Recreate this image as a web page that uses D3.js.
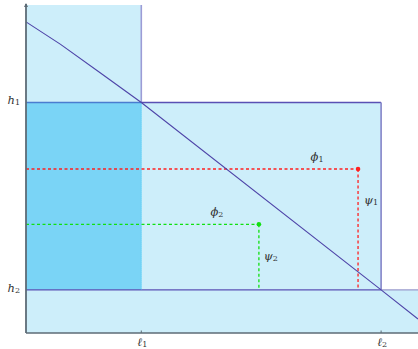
<!DOCTYPE html>
<html><head><meta charset="utf-8">
<script src="https://cdn.jsdelivr.net/npm/d3@7"></script>
<style>body{margin:0;background:#fff}svg{display:block}</style>
</head><body>
<script>
// ---- data (in chart units) ----
const xTicks = [1.0, 3.08];           // ℓ1, ℓ2
const xTickLabels = ["ℓ1", "ℓ2"];
const yTicks = [2.46, 0.46];          // h1, h2
const yTickLabels = ["h1", "h2"];
const curveX = [0, 0.3, 0.64, 1.0, 3.08, 3.4];
const curveY = [3.32, 3.08, 2.78, 2.46, 0.46, 0.15];
const pointsX = [2.88, 2.02];
const pointsY = [1.75, 1.16];
const pointNames = [["ϕ", "1"], ["ϕ", "2"]];
const pointNamesV = [["ψ", "1"], ["ψ", "2"]];

const W = 418, H = 349;
const x = d3.scaleLinear().domain([0, 3.4]).range([26, 418]);
const y = d3.scaleLinear().domain([0, 3.5]).range([333, 5]);
const [l1, l2] = xTicks, [h1, h2] = yTicks;
const xMax = 3.4, yMax = 3.5;

const svg = d3.select("body").append("svg").attr("width", W).attr("height", H);

const light = "#cdeefa", dark = "#7ad4f6";
// light regions
svg.append("rect").attr("x", x(0)).attr("y", y(yMax)).attr("width", x(l1) - x(0)).attr("height", y(h2) - y(yMax)).attr("fill", light);
svg.append("rect").attr("x", x(l1)).attr("y", y(h1)).attr("width", x(l2) - x(l1)).attr("height", y(h2) - y(h1)).attr("fill", light);
svg.append("rect").attr("x", x(0)).attr("y", y(h2)).attr("width", x(xMax) - x(0)).attr("height", y(0) - y(h2)).attr("fill", light);
// dark region
svg.append("rect").attr("x", x(0)).attr("y", y(h1)).attr("width", x(l1) - x(0)).attr("height", y(h2) - y(h1)).attr("fill", dark);

function seg(x1, y1, x2, y2, color, w, dash) {
  const s = svg.append("line").attr("x1", x(x1)).attr("y1", y(y1)).attr("x2", x(x2)).attr("y2", y(y2))
    .attr("stroke", color).attr("stroke-width", w);
  if (dash) s.attr("stroke-dasharray", dash);
  return s;
}
// region borders
seg(l1, yMax, l1, h1, "#9c9cd6", 1.6);
seg(0, h1, l1, h1, "#4a7cd0", 1.4);
seg(l1, h1, l2, h1, "#5a50b4", 1.4);
seg(l2, h1, l2, h2, "#8484c8", 1.6);
seg(0, h2, l2, h2, "#5a50b4", 1.4);
seg(l2, h2, xMax, h2, "#9a9acc", 1.4);
seg(l1, h1, l1, h2, "#3cc4f4", 1, "1,1");

// dashed guides
const gColors = ["#ff2020", "#10e010"];
pointsX.forEach((px, i) => {
  seg(0, pointsY[i], px, pointsY[i], gColors[i], 1.3, "3,2.5");
  seg(px, pointsY[i], px, h2, gColors[i], 1.3, "3,2.5");
  svg.append("circle").attr("cx", x(px)).attr("cy", y(pointsY[i])).attr("r", 2.3).attr("fill", gColors[i]);
});

// curve
const pts = curveX.map((d, i) => [x(d), y(curveY[i])]);
svg.append("path").attr("d", d3.line().curve(d3.curveLinear)(pts))
  .attr("fill", "none").attr("stroke", "#4e44a8").attr("stroke-width", 1.1);

// axes
const axisCol = "#5d6b76";
svg.append("line").attr("x1", x(0)).attr("y1", y(0)).attr("x2", x(xMax)).attr("y2", y(0)).attr("stroke", axisCol).attr("stroke-width", 1.6);
svg.append("line").attr("x1", x(0)).attr("y1", y(0)).attr("x2", x(0)).attr("y2", 4).attr("stroke", axisCol).attr("stroke-width", 1.8);
svg.append("path").attr("d", `M${x(0)-2},7 L${x(0)},3 L${x(0)+2},7 Z`).attr("fill", axisCol);

const font = "DejaVu Serif, Liberation Serif, serif";
function label(px, py, parts, anchor) {
  const t = svg.append("text").attr("x", px).attr("y", py).attr("text-anchor", anchor || "middle")
    .attr("font-family", font).attr("font-size", 11.5).attr("fill", "#333").attr("dominant-baseline", "middle");
  t.append("tspan").attr("font-style", "italic").text(parts[0]);
  t.append("tspan").attr("font-size", 8).attr("dy", 2).text(parts[1]);
  return t;
}
// x ticks
xTicks.forEach((v, i) => {
  svg.append("line").attr("x1", x(v)).attr("x2", x(v)).attr("y1", y(0) - 2.5).attr("y2", y(0)).attr("stroke", axisCol).attr("stroke-width", 1);
  label(x(v) + 1, 343, [xTickLabels[i][0], xTickLabels[i].slice(1)]);
});
yTicks.forEach((v, i) => {
  label(20, y(v) - 1, [yTickLabels[i][0], yTickLabels[i].slice(1)], "end");
});

// point labels
label(x(pointsX[0]) - 41, y(pointsY[0]) - 11, pointNames[0]);
label(x(pointsX[0]) + 13, y(pointsY[0]) + 32, pointNamesV[0]);
label(x(pointsX[1]) - 42, y(pointsY[1]) - 11, pointNames[1]);
label(x(pointsX[1]) + 12, y(pointsY[1]) + 33, pointNamesV[1]);
</script>
</body></html>
